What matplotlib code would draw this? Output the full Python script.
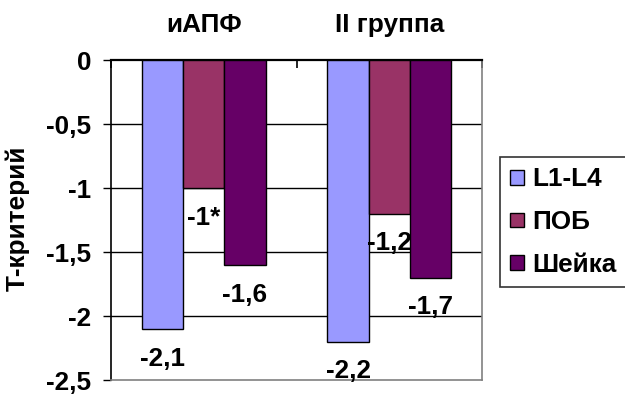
import matplotlib
matplotlib.use("Agg")
import matplotlib.pyplot as plt
import matplotlib.transforms as mtransforms
import numpy as np

plt.rcParams['font.family'] = ['Liberation Sans', 'DejaVu Sans']
plt.rcParams['font.weight'] = 'bold'

# Data
categories = ["иАПФ", "II группа"]
series_names = ["L1-L4", "ПОБ", "Шейка"]
l1_l4 = [-2.1, -2.2]
pob = [-1.0, -1.2]
sheika = [-1.6, -1.7]
value_labels = [["-2,1", "-2,2"], ["-1*", "-1,2"], ["-1,6", "-1,7"]]
yticks = [0, -0.5, -1, -1.5, -2, -2.5]
ytick_labels = ["0", "-0,5", "-1", "-1,5", "-2", "-2,5"]
colors = ["#9999FF", "#993366", "#660066"]

W, H = 625, 395
fig = plt.figure(figsize=(W / 100, H / 100), dpi=100)
ax = fig.add_axes([111 / W, 1 - 380 / H, (482 - 111) / W, (380 - 60) / H])

FS = 18.8
x = np.arange(len(categories))
bw = 1 / 4.5
series = [l1_l4, pob, sheika]
for i, (vals, name, col) in enumerate(zip(series, series_names, colors)):
    xs = x + (i - 1) * bw
    ax.bar(xs, vals, width=bw, color=col, edgecolor="black", linewidth=1.0,
           label=name, zorder=3)
    for xi, v, lab in zip(xs, vals, value_labels[i]):
        ax.annotate(lab, (xi, v), xytext=(0, -26.5), textcoords="offset points",
                    ha="center", va="baseline", fontsize=FS, fontweight="bold",
                    zorder=4)

ax.set_xlim(-0.5, 1.5)
ax.set_ylim(-2.5, 0)

# horizontal gridlines
for yv in yticks[1:-1]:
    ax.axhline(yv, color="black", linewidth=1.0, zorder=1)

ax.set_yticks(yticks)
ax.set_yticklabels(ytick_labels, fontsize=FS, fontweight="bold")
ax.tick_params(axis="y", direction="out", length=6, width=1, pad=8)

# category axis sits on top at zero
ax.xaxis.set_ticks_position("top")
ax.set_xticks([-0.5, 0.5, 1.5])
ax.set_xticklabels([])
ax.tick_params(axis="x", direction="in", length=5.5, width=1.2)

ax.spines["top"].set_color("black")
ax.spines["top"].set_linewidth(1.6)
ax.spines["left"].set_color("black")
ax.spines["left"].set_linewidth(1.2)
ax.spines["right"].set_color("#808080")
ax.spines["right"].set_linewidth(1.2)
ax.spines["bottom"].set_color("#808080")
ax.spines["bottom"].set_linewidth(1.2)

# category names above the plot
trans = mtransforms.blended_transform_factory(ax.transData, fig.transFigure)
for xi, cat in zip(x, categories):
    ax.text(xi, 1 - 25 / H, cat, transform=trans, ha="center", va="center",
            fontsize=FS, fontweight="bold")

fig.text(18 / W, 1 - 218 / H, "Т-критерий", rotation=90, ha="center",
         va="center", fontsize=FS, fontweight="bold")

leg = fig.legend(loc="upper left", bbox_to_anchor=(500 / W, 1 - 157 / H),
                 fontsize=FS, frameon=True, fancybox=False, edgecolor="black",
                 handlelength=0.5, handleheight=0.5, handletextpad=0.35,
                 labelspacing=0.72, borderpad=0.4, borderaxespad=0)
leg.get_frame().set_linewidth(1.2)
for t in leg.get_texts():
    t.set_fontweight("bold")
for h in leg.legend_handles:
    h.set_edgecolor("black")
    h.set_linewidth(1.0)

fig.savefig("out.png", dpi=100)
